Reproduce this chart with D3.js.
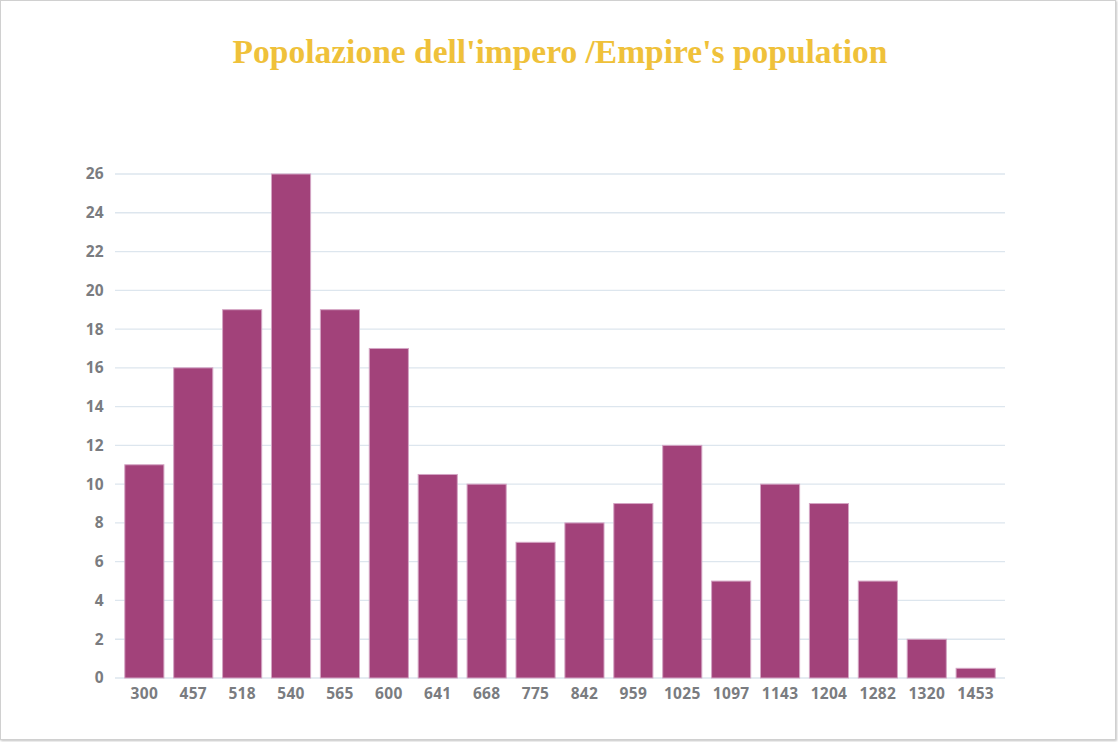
<!DOCTYPE html>
<html>
<head>
    <style>
        body { margin: 0; background: #fff; }
        .frame { position: absolute; left: 0; top: 0; width: 1114px; height: 738px;
                 border: 1px solid #d0d0d0; box-shadow: 1px 1px 2px #c8c8c8, -1px 0 2px #d8d8d8; }
        .tick text { font: bold 15.5px "Open Sans", sans-serif; fill: #7a7c80; letter-spacing: 0.3px; }
        .grid line { stroke: #dde6ee; stroke-width: 1.3px; }
        .bar { fill: #a2427a; stroke: #d4a5c4; stroke-width: 1px; }
        .title { font: bold 33.5px "Liberation Serif", serif; fill: #efc13a; }
    </style>
</head>
<body>
    <div class="frame"></div>
    <script src="https://d3js.org/d3.v7.min.js"></script>
    <script>
        // Years (x categories) and population in millions
        var years = ["300", "457", "518", "540", "565", "600", "641", "668", "775",
                     "842", "959", "1025", "1097", "1143", "1204", "1282", "1320", "1453"];
        var population = [11, 16, 19, 26, 19, 17, 10.5, 10, 7, 8, 9, 12, 5, 10, 9, 5, 2, 0.5];
        var yTicks = [0, 2, 4, 6, 8, 10, 12, 14, 16, 18, 20, 22, 24, 26];

        var width = 1118, height = 742;
        var plotLeft = 115, plotRight = 1005, plotTop = 174, plotBottom = 678;

        var svg = d3.select("body").append("svg")
            .attr("width", width)
            .attr("height", height)
            .style("position", "absolute")
            .style("left", 0).style("top", 0);

        var x = d3.scaleBand()
            .domain(years)
            .range([plotLeft, plotRight])
            .paddingInner(0.2)
            .paddingOuter(0.2);

        var y = d3.scaleLinear()
            .domain([0, 26])
            .range([plotBottom, plotTop]);

        // Gridlines
        svg.append("g")
            .attr("class", "grid")
            .selectAll("line")
            .data(yTicks)
            .enter().append("line")
            .attr("x1", plotLeft)
            .attr("x2", plotRight)
            .attr("y1", function (d) { return y(d); })
            .attr("y2", function (d) { return y(d); });

        // Y axis labels
        var yAxis = svg.append("g")
            .attr("transform", "translate(" + (plotLeft - 11) + ",0)")
            .call(d3.axisLeft(y).tickValues(yTicks).tickSize(0).tickPadding(0));
        yAxis.select(".domain").remove();

        // Bars
        svg.selectAll(".bar")
            .data(population)
            .enter().append("rect")
            .attr("class", "bar")
            .attr("x", function (d, i) { return x(years[i]); })
            .attr("width", x.bandwidth())
            .attr("y", function (d) { return y(d); })
            .attr("height", function (d) { return y(0) - y(d); });

        // X axis labels
        var xAxis = svg.append("g")
            .attr("transform", "translate(0," + plotBottom + ")")
            .call(d3.axisBottom(x).tickSize(0).tickPadding(10));
        xAxis.select(".domain").remove();

        // Title
        svg.append("text")
            .attr("class", "title")
            .attr("x", 560)
            .attr("y", 63)
            .attr("text-anchor", "middle")
            .text("Popolazione dell'impero /Empire's population");
    </script>
</body>
</html>
